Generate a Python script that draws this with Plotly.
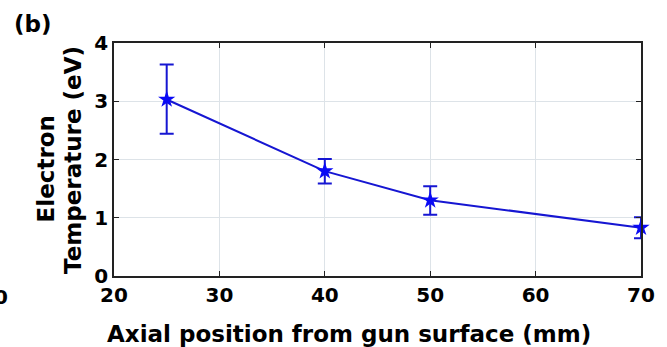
import plotly.graph_objects as go

# Data
positions_mm = [25, 40, 50, 70]
temperature_ev = [3.03, 1.80, 1.30, 0.83]
err_plus = [0.60, 0.21, 0.24, 0.18]
err_minus = [0.59, 0.21, 0.25, 0.18]

x_ticks = [20, 30, 40, 50, 60, 70]
y_ticks = [0, 1, 2, 3, 4]

LINE_BLUE = "rgb(22,22,210)"
MARK_BLUE = "rgb(10,10,245)"
AXIS_COL = "#222222"
GRID_COL = "#dde3e8"
FONT = "DejaVu Sans"

fig = go.Figure()
fig.add_trace(go.Scatter(
    x=positions_mm, y=temperature_ev,
    mode="lines+markers",
    line=dict(color=LINE_BLUE, width=2),
    marker=dict(symbol="star", size=13, color=MARK_BLUE, line=dict(width=0)),
    error_y=dict(type="data", symmetric=False, array=err_plus, arrayminus=err_minus,
                 color=LINE_BLUE, thickness=2, width=7),
    cliponaxis=False,
    showlegend=False,
))

axis_common = dict(
    showline=True, linecolor=AXIS_COL, linewidth=1.6, mirror="ticks",
    ticks="inside", ticklen=5, tickwidth=1.4, tickcolor=AXIS_COL,
    showgrid=True, gridcolor=GRID_COL, gridwidth=1,
    zeroline=False,
    tickfont=dict(family=FONT, size=20, color="black", weight="bold"),
)

fig.update_xaxes(range=[20, 70], tickvals=x_ticks, ticktext=[str(v) for v in x_ticks], **axis_common)
fig.update_yaxes(range=[0, 4], tickvals=y_ticks, ticktext=[str(v) for v in y_ticks], **axis_common)

title_font = dict(family=FONT, size=23, color="black", weight="bold")

L, R, T, B = 114, 650.5, 43, 275.7
PW, PH = R - L, B - T


def px(xpix):
    return (xpix - L) / PW


def py(ypix):
    return (B - ypix) / PH


fig.update_layout(
    width=667, height=347,
    margin=dict(l=L, r=667 - R, t=T, b=347 - B),
    paper_bgcolor="white", plot_bgcolor="white",
    annotations=[
        dict(text="Axial position from gun surface (mm)", xref="paper", yref="paper",
             x=px(353), y=py(334), xanchor="center", yanchor="middle",
             showarrow=False, font=title_font),
        dict(text="Electron", xref="paper", yref="paper",
             x=px(45), y=py(169), xanchor="center", yanchor="middle",
             textangle=-90, showarrow=False, font=title_font),
        dict(text="Temperature (eV)", xref="paper", yref="paper",
             x=px(72), y=py(160), xanchor="center", yanchor="middle",
             textangle=-90, showarrow=False, font=title_font),
        dict(text="(b)", xref="paper", yref="paper",
             x=px(10), y=py(24), xanchor="left", yanchor="middle",
             showarrow=False, font=title_font),
        dict(text="0", xref="paper", yref="paper",
             x=px(-1), y=py(296.7), xanchor="center", yanchor="middle",
             showarrow=False, font=dict(family=FONT, size=20, color="black", weight="bold")),
    ],
)

fig.write_html("out.html", config={"displayModeBar": False},
               post_script="document.body.style.margin='0';")
